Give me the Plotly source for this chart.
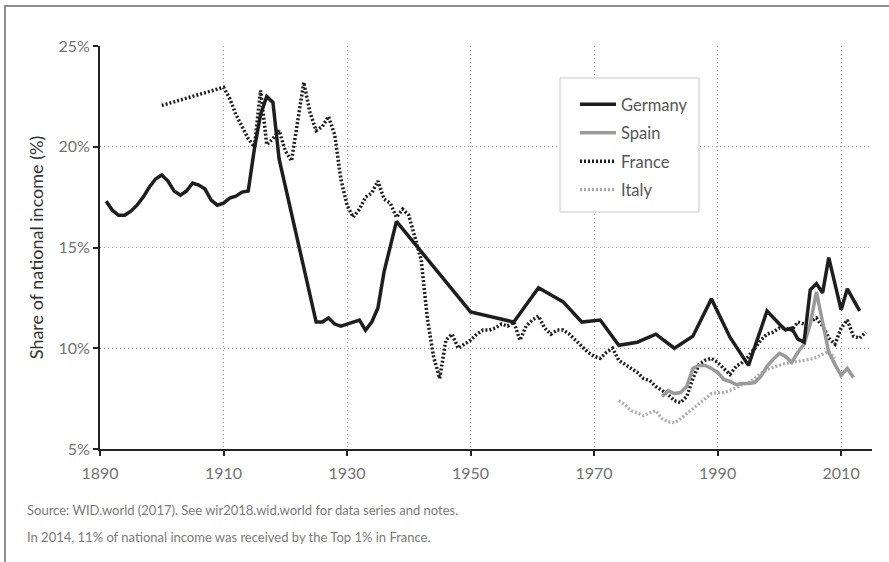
import plotly.graph_objects as go

# ---------------- data ----------------
germany_years = [1891, 1892, 1893, 1894, 1895, 1896, 1897, 1898, 1899, 1900,
                 1901, 1902, 1903, 1904, 1905, 1906, 1907, 1908, 1909, 1910,
                 1911, 1912, 1913, 1914, 1915, 1916, 1917, 1918, 1919, 1925,
                 1926, 1927, 1928, 1929, 1930, 1932, 1933, 1934, 1935, 1936,
                 1938, 1950, 1957, 1961, 1965, 1968, 1971, 1974, 1977, 1980,
                 1983, 1986, 1989, 1992, 1995, 1998, 2000, 2001, 2002, 2003,
                 2004, 2005, 2006, 2007, 2008, 2010, 2011, 2013]
germany_vals = [17.3, 16.85, 16.6, 16.6, 16.8, 17.1, 17.5, 18.0, 18.4, 18.6,
                18.3, 17.8, 17.6, 17.8, 18.2, 18.1, 17.9, 17.35, 17.1, 17.2,
                17.45, 17.55, 17.75, 17.8, 19.9, 21.6, 22.5, 22.2, 19.4, 11.3,
                11.3, 11.5, 11.2, 11.1, 11.2, 11.4, 10.9, 11.3, 12.0, 13.8,
                16.3, 11.8, 11.3, 13.0, 12.3, 11.3, 11.4, 10.15, 10.3, 10.7,
                10.0, 10.6, 12.45, 10.55, 9.15, 11.85, 11.2, 10.9, 11.0, 10.45,
                10.3, 12.9, 13.2, 12.75, 14.5, 11.9, 12.95, 11.85]

spain_years = [1981, 1982, 1983, 1984, 1985, 1986, 1987, 1988, 1989, 1990,
               1991, 1992, 1993, 1994, 1995, 1996, 1997, 1998, 1999, 2000,
               2001, 2002, 2003, 2004, 2005, 2006, 2007, 2008, 2009, 2010,
               2011, 2012]
spain_vals = [7.6, 7.9, 7.75, 7.8, 8.1, 9.0, 9.15, 9.15, 9.0, 8.8,
              8.45, 8.35, 8.2, 8.25, 8.25, 8.3, 8.6, 9.1, 9.45, 9.75,
              9.6, 9.3, 9.8, 10.2, 11.2, 12.8, 11.3, 9.8, 9.2, 8.65,
              9.0, 8.55]

france_years = [1900, 1910, 1911, 1912, 1913, 1914, 1915, 1916, 1917, 1918,
                1919, 1920, 1921, 1922, 1923, 1924, 1925, 1926, 1927, 1928,
                1929, 1930, 1931, 1932, 1933, 1934, 1935, 1936, 1937, 1938,
                1939, 1940, 1941, 1942, 1943, 1944, 1945, 1946, 1947, 1948,
                1949, 1950, 1951, 1952, 1953, 1954, 1955, 1956, 1957, 1958,
                1959, 1960, 1961, 1962, 1963, 1964, 1965, 1966, 1967, 1968,
                1969, 1970, 1971, 1972, 1973, 1974, 1975, 1976, 1977, 1978,
                1979, 1980, 1981, 1982, 1983, 1984, 1985, 1986, 1987, 1988,
                1989, 1990, 1991, 1992, 1993, 1994, 1995, 1996, 1997, 1998,
                1999, 2000, 2001, 2002, 2003, 2004, 2005, 2006, 2007, 2008,
                2009, 2010, 2011, 2012, 2013, 2014]
france_vals = [22.05, 22.95, 22.4, 21.6, 21.0, 20.4, 20.0, 22.8, 20.1, 20.4,
               20.8, 19.8, 19.3, 21.3, 23.2, 21.7, 20.8, 21.0, 21.5, 20.6,
               18.4, 17.1, 16.5, 16.9, 17.5, 17.7, 18.3, 17.4, 17.2, 16.5,
               16.9, 16.6, 15.5, 14.4, 11.5, 9.6, 8.5, 10.4, 10.7, 10.0,
               10.2, 10.4, 10.7, 10.9, 10.9, 11.0, 11.2, 11.1, 11.3, 10.4,
               11.1, 11.4, 11.6, 11.0, 10.7, 10.9, 10.9, 10.7, 10.4, 10.1,
               9.8, 9.6, 9.5, 9.8, 10.0, 9.4, 9.2, 9.0, 8.8, 8.5,
               8.4, 8.1, 7.9, 7.7, 7.4, 7.3, 7.6, 8.5, 9.2, 9.4,
               9.5, 9.3, 9.0, 8.7, 9.1, 9.3, 9.6, 10.0, 10.4, 10.7,
               10.8, 11.0, 11.0, 10.9, 11.3, 11.2, 11.3, 11.5, 11.1, 10.5,
               10.2, 11.0, 11.4, 10.6, 10.5, 10.8]

italy_years = [1974, 1975, 1976, 1977, 1978, 1979, 1980, 1981, 1982, 1983,
               1984, 1985, 1986, 1987, 1988, 1989, 1990, 1991, 1992, 1993,
               1994, 1995, 1996, 1997, 1998, 1999, 2000, 2001, 2002, 2003,
               2004, 2005, 2006, 2007, 2008, 2009]
italy_vals = [7.4, 7.2, 6.9, 6.8, 6.65, 6.8, 6.9, 6.5, 6.35, 6.3,
              6.5, 6.75, 7.0, 7.3, 7.55, 7.75, 7.8, 7.8, 7.9, 8.05,
              8.2, 8.3, 8.5, 8.75, 8.95, 9.05, 9.15, 9.25, 9.3, 9.35,
              9.4, 9.45, 9.55, 9.7, 9.85, 9.5]

x_ticks = [1890, 1910, 1930, 1950, 1970, 1990, 2010]
y_ticks = [5, 10, 15, 20, 25]
y_tick_labels = ["5%", "10%", "15%", "20%", "25%"]

source_lines = [
    "Source: WID.world (2017). See wir2018.wid.world for data series and notes.",
    "In 2014, 11% of national income was received by the Top 1% in France.",
]

# ---------------- figure ----------------
W, H = 889, 562
ML, MR, MT, MB = 100, 17, 46, 113
PW, PH = W - ML - MR, H - MT - MB


def px_to_paper_x(px):
    return (px - ML) / PW


def px_to_paper_y(py):
    return (H - MB - py) / PH


fig = go.Figure()

fig.add_trace(go.Scatter(x=italy_years, y=italy_vals, mode="lines", name="Italy",
                         legendrank=4, legendgroup="it",
                         line=dict(color="#ababab", width=3.2, dash="2px,2px")))
fig.add_trace(go.Scatter(x=france_years, y=france_vals, mode="lines", name="France",
                         legendrank=3, legendgroup="fr",
                         line=dict(color="#1e1e1e", width=3.5, dash="2px,2px")))
fig.add_trace(go.Scatter(x=spain_years, y=spain_vals, mode="lines", name="Spain",
                         legendrank=2, legendgroup="es",
                         line=dict(color="#9a9a9a", width=3.5)))
fig.add_trace(go.Scatter(x=germany_years, y=germany_vals, mode="lines", name="Germany",
                         legendrank=1, legendgroup="de",
                         line=dict(color="#1e1e1e", width=3.5)))

tick_font = dict(family="Lato, sans-serif", size=16, color="#727272")

fig.update_xaxes(
    range=[1890, 2015], tickvals=x_ticks, tickfont=tick_font,
    showline=True, linecolor="#222222", linewidth=2,
    ticks="outside", ticklen=5, tickwidth=2, tickcolor="#222222",
    ticklabelstandoff=4,
    showgrid=True, gridcolor="#9a9a9a", gridwidth=1, griddash="1px,3px",
    zeroline=False,
)
fig.update_yaxes(
    range=[5, 25], tickvals=y_ticks, ticktext=y_tick_labels, tickfont=tick_font,
    showline=True, linecolor="#222222", linewidth=2,
    ticks="outside", ticklen=5, tickwidth=2, tickcolor="#222222",
    showgrid=True, gridcolor="#9a9a9a", gridwidth=1, griddash="1px,3px",
    zeroline=False,
    title=dict(text="Share of national income (%)",
               font=dict(family="Lato, sans-serif", size=18, color="#333333"),
               standoff=10),
)

annotations = []
for i, line in enumerate(source_lines):
    annotations.append(dict(
        text=line, xref="paper", yref="paper",
        x=px_to_paper_x(25), y=px_to_paper_y(510 + 27 * i),
        xanchor="left", yanchor="middle", showarrow=False,
        font=dict(family="Lato, sans-serif", size=13, color="#7a7a7a"),
    ))

frame = dict(type="rect", xref="paper", yref="paper", layer="above",
             x0=px_to_paper_x(5), x1=px_to_paper_x(W + 20),
             y0=px_to_paper_y(H + 20), y1=px_to_paper_y(6),
             line=dict(color="#6a6a6a", width=1.5), fillcolor="rgba(0,0,0,0)")

legend_box = dict(type="rect", xref="paper", yref="paper", layer="above",
                  x0=px_to_paper_x(560), x1=px_to_paper_x(699),
                  y0=px_to_paper_y(212), y1=px_to_paper_y(78),
                  line=dict(color="#c8c8c8", width=1), fillcolor="white")

fig.update_layout(
    width=W, height=H,
    margin=dict(l=ML, r=MR, t=MT, b=MB),
    paper_bgcolor="white", plot_bgcolor="white",
    font=dict(family="Lato, sans-serif", color="#555555"),
    showlegend=True,
    legend=dict(
        x=px_to_paper_x(575), y=px_to_paper_y(87), xanchor="left", yanchor="top",
        bgcolor="rgba(0,0,0,0)", borderwidth=0,
        font=dict(family="Lato, sans-serif", size=16.5, color="#555555"),
        tracegroupgap=4, itemwidth=36, traceorder="grouped",
    ),
    annotations=annotations,
    shapes=[frame, legend_box],
)

fig.write_html("out.html", config={"displayModeBar": False},
               post_script="document.body.style.margin='0';")
